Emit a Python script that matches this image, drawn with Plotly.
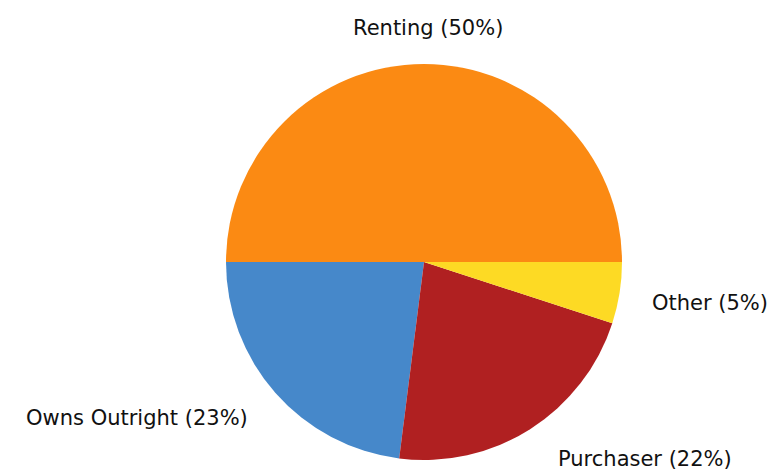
import plotly.graph_objects as go

labels = ["Renting", "Owns Outright", "Purchaser", "Other"]
values = [50, 23, 22, 5]
colors = ["#FB8A13", "#4688CA", "#B02021", "#FDDA24"]

fig = go.Figure()

fig.add_trace(go.Pie(
    labels=labels,
    values=values,
    sort=False,
    direction="counterclockwise",
    rotation=-90,
    marker=dict(colors=colors, line=dict(width=0)),
    textinfo="none",
    hoverinfo="label+percent",
    domain=dict(x=[226 / 777, 622 / 777], y=[1 - 460 / 473, 1 - 64 / 473]),
    showlegend=False,
))

# label centres (paper coords) for each slice, same order as labels
label_pos = [
    (428 / 777, 1 - 28 / 473),
    (137 / 777, 1 - 418 / 473),
    (645 / 777, 1 - 459 / 473),
    (710 / 777, 1 - 303 / 473),
]
total = sum(values)
for lab, val, (x, y) in zip(labels, values, label_pos):
    fig.add_annotation(
        x=x, y=y, xref="paper", yref="paper",
        text=f"{lab} ({round(100 * val / total)}%)",
        showarrow=False, xanchor="center", yanchor="middle",
        font=dict(family="DejaVu Sans", size=21, color="#111111"),
    )

fig.update_layout(
    width=777,
    height=473,
    margin=dict(l=0, r=0, t=0, b=0),
    paper_bgcolor="white",
    plot_bgcolor="white",
)

# drop the page's default body margin so the figure sits at the top-left
fig.write_html(
    "out.html",
    config={"displayModeBar": False},
    post_script="document.body.style.margin='0';",
)
